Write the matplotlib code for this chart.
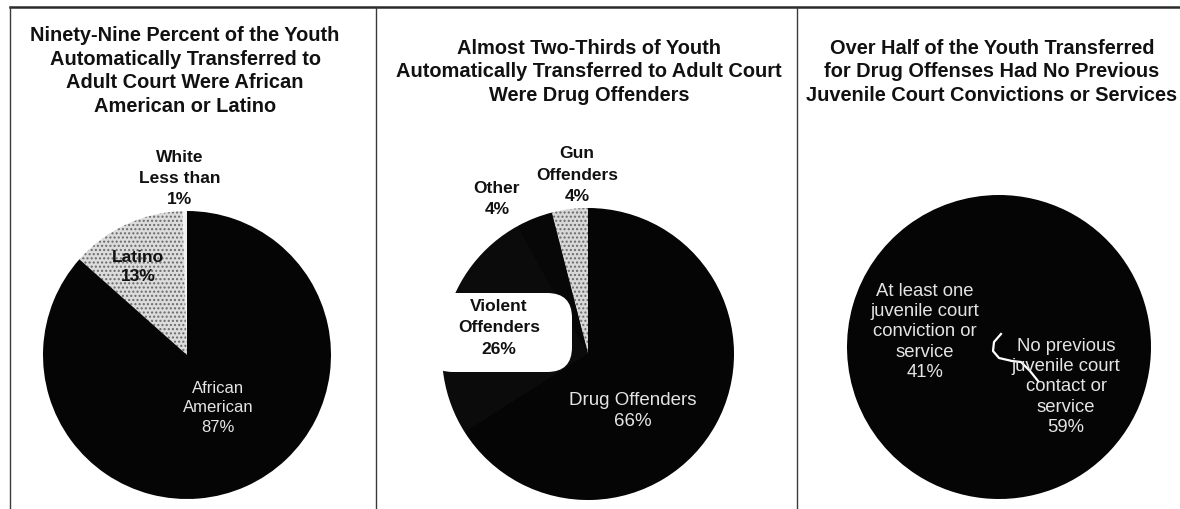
import matplotlib
matplotlib.use("Agg")
import matplotlib.pyplot as plt
from matplotlib.patches import FancyBboxPatch, Circle
from matplotlib.lines import Line2D

plt.rcParams['font.family'] = ['Liberation Sans', 'DejaVu Sans']
plt.rcParams['hatch.color'] = '#6a6a6a'
plt.rcParams['hatch.linewidth'] = 1.0

W, H = 1180, 510

# ---- data ----
titles = [
    "Ninety-Nine Percent of the Youth\nAutomatically Transferred to\nAdult Court Were African\nAmerican or Latino",
    "Almost Two-Thirds of Youth\nAutomatically Transferred to Adult Court\nWere Drug Offenders",
    "Over Half of the Youth Transferred\nfor Drug Offenses Had No Previous\nJuvenile Court Convictions or Services",
]

race_labels = ["White\nLess than\n1%", "Latino\n13%", "African\nAmerican\n87%"]
race_values = [0.5, 13, 87]

offense_labels = ["Gun\nOffenders\n4%", "Other\n4%", "Violent\nOffenders\n26%", "Drug Offenders\n66%"]
offense_values = [4, 4, 26, 66]

history_labels = ["No previous\njuvenile court\ncontact or\nservice\n59%",
                  "At least one\njuvenile court\nconviction or\nservice\n41%"]
history_values = [59, 41]

fig = plt.figure(figsize=(W / 100, H / 100), dpi=100)
fig.patch.set_facecolor('white')


def fxy(x, y):
    return x / W, 1 - y / H


def pie_axes(cx, cy, r):
    ax = fig.add_axes([(cx - r) / W, (H - cy - r) / H, 2 * r / W, 2 * r / H])
    ax.set_xlim(-1, 1)
    ax.set_ylim(-1, 1)
    ax.set_aspect('equal')
    ax.axis('off')
    return ax


def to_data(px, py, cx, cy, r):
    return (px - cx) / r, (cy - py) / r


BOLD = dict(fontweight='bold', color='#111111', ha='center', va='center')
WHITE = dict(color='#e4e4e4', ha='center', va='center')

# ---- frame lines ----
frame = fig.add_axes([0, 0, 1, 1])
frame.set_xlim(0, W)
frame.set_ylim(H, 0)
frame.axis('off')
frame.plot([10, W], [8, 8], color='#2a2a2a', lw=1.8)
for xv in [10, 376, 797]:
    frame.plot([xv, xv], [8, H], color='#3a3a3a', lw=1.0)

# ---- titles ----
title_pos = [(185, 71), (589, 72), (992, 72)]
for t, (x, y) in zip(titles, title_pos):
    fig.text(*fxy(x, y), t, ha='center', va='center', fontsize=14.4,
             fontweight='bold', linespacing=1.3, color='#111111')

# ---- pie 1 ----
c1 = (187, 356, 144)
ax1 = pie_axes(*c1)
w1, _ = ax1.pie(race_values, startangle=90, counterclock=True, radius=1,
                colors=['#f2f2f2', '#dcdcdc', '#050505'],
                wedgeprops=dict(linewidth=0))
w1[1].set_hatch('....')
ax1.set_xlim(-1, 1); ax1.set_ylim(-1, 1)
fig.text(*fxy(180, 179), race_labels[0], fontsize=12.5, linespacing=1.5, **BOLD)
fig.text(*fxy(138, 267), race_labels[1], fontsize=12.5, linespacing=1.38, **BOLD)
fig.text(*fxy(218, 408), race_labels[2], fontsize=12, linespacing=1.35, **WHITE)

# ---- pie 2 ----
c2 = (588, 355, 146)
ax2 = pie_axes(*c2)
w2, _ = ax2.pie(offense_values, startangle=90, counterclock=True, radius=1,
                colors=['#d8d8d8', '#070707', '#0b0b0b', '#050505'],
                wedgeprops=dict(linewidth=0))
w2[0].set_hatch('....')
ax2.add_patch(Circle((0, 0), 0.995, facecolor='#050505', edgecolor='none', zorder=0))
ax2.set_xlim(-1, 1); ax2.set_ylim(-1, 1)
bx0, by0 = to_data(428, 373, *c2)
bx1, by1 = to_data(572, 294, *c2)
ax2.add_patch(FancyBboxPatch((bx0, by0), bx1 - bx0, by1 - by0,
                             boxstyle='round,pad=0,rounding_size=0.17',
                             facecolor='white', edgecolor='none', zorder=3,
                             clip_on=False))
fig.text(*fxy(577, 175), offense_labels[0], fontsize=12.5, linespacing=1.53, **BOLD)
fig.text(*fxy(497, 199), offense_labels[1], fontsize=12.5, linespacing=1.53, **BOLD)
fig.text(*fxy(499, 328), offense_labels[2], fontsize=12.5, linespacing=1.55, **BOLD)
fig.text(*fxy(633, 411), offense_labels[3], fontsize=13.5, linespacing=1.32, **WHITE)

# ---- pie 3 ----
c3 = (999, 348, 152)
ax3 = pie_axes(*c3)
ax3.add_patch(Circle((0, 0), 0.995, facecolor='#050505', edgecolor='none', zorder=0))
w3, _ = ax3.pie(history_values, startangle=90, counterclock=False, radius=1,
                colors=['#050505', '#050505'], wedgeprops=dict(linewidth=0))
ax3.set_xlim(-1, 1); ax3.set_ylim(-1, 1)
fig.text(*fxy(1066, 387), history_labels[0], fontsize=13.3, linespacing=1.25, **WHITE)
fig.text(*fxy(925, 332), history_labels[1], fontsize=13.3, linespacing=1.25, **WHITE)
curve_px = [(1001, 335), (994, 343), (993, 352), (999, 359), (1012, 362),
            (1021, 363), (1030, 372), (1038, 382)]
cx, cy = zip(*[to_data(px, py, *c3) for px, py in curve_px])
ax3.add_line(Line2D(cx, cy, color='white', lw=1.6, zorder=4))

fig.savefig('out.png', dpi=100, facecolor='white')
